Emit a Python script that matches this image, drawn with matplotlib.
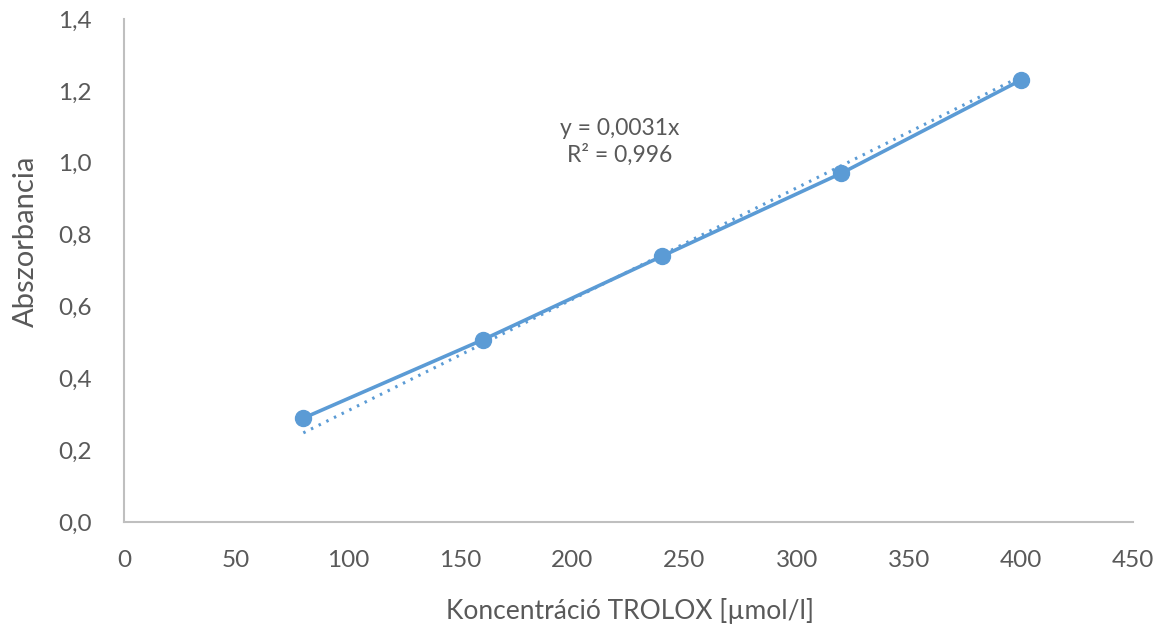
import matplotlib
matplotlib.use("Agg")
import matplotlib.pyplot as plt
import numpy as np

# Trolox calibration data
concentration = [80, 160, 240, 320, 400]
absorbance = [0.289, 0.507, 0.740, 0.971, 1.230]
slope = 0.0031
r_squared = "0,996"

x_ticks = [0, 50, 100, 150, 200, 250, 300, 350, 400, 450]
y_ticks = [0.0, 0.2, 0.4, 0.6, 0.8, 1.0, 1.2, 1.4]

plt.rcParams['font.family'] = ['Lato', 'DejaVu Sans']
blue = '#5B9BD5'
grey = '#595959'

fig = plt.figure(figsize=(11.66, 6.35), dpi=100)
ax = fig.add_axes([0.1063, 0.178, 0.8654, 0.792])

ax.plot(concentration, absorbance, color=blue, lw=2.6, marker='o', ms=11.5, zorder=3)

fit_x = np.array([concentration[0], concentration[-1]])
ax.plot(fit_x, slope * fit_x, color=blue, lw=2.2, linestyle=(0, (0.8, 2.0)), zorder=2)

ax.set_xlim(0, 450)
ax.set_ylim(0, 1.4)
ax.set_xticks(x_ticks)
ax.set_yticks(y_ticks)
ax.set_xticklabels([str(v) for v in x_ticks])
ax.set_yticklabels([f"{v:.1f}".replace('.', ',') for v in y_ticks])
ax.tick_params(length=0, labelsize=17.5, colors=grey)
ax.tick_params(axis='x', pad=20)
ax.tick_params(axis='y', pad=23)

for s in ['top', 'right']:
    ax.spines[s].set_visible(False)
for s in ['left', 'bottom']:
    ax.spines[s].set_color('#BFBFBF')
    ax.spines[s].set_linewidth(1.5)

ax.set_xlabel('Koncentráció TROLOX [µmol/l]', fontsize=19, color=grey)
ax.set_ylabel('Abszorbancia', fontsize=21, color=grey)
ax.xaxis.set_label_coords(0.5015, -0.152)
ax.yaxis.set_label_coords(-0.084, 0.559)

eq = f"y = {str(slope).replace('.', ',')}x\nR² = {r_squared}"
ax.text(221, 1.058, eq, ha='center', va='center', fontsize=16.5, color=grey, linespacing=1.3)

fig.savefig('out.png', dpi=100, facecolor='white')
